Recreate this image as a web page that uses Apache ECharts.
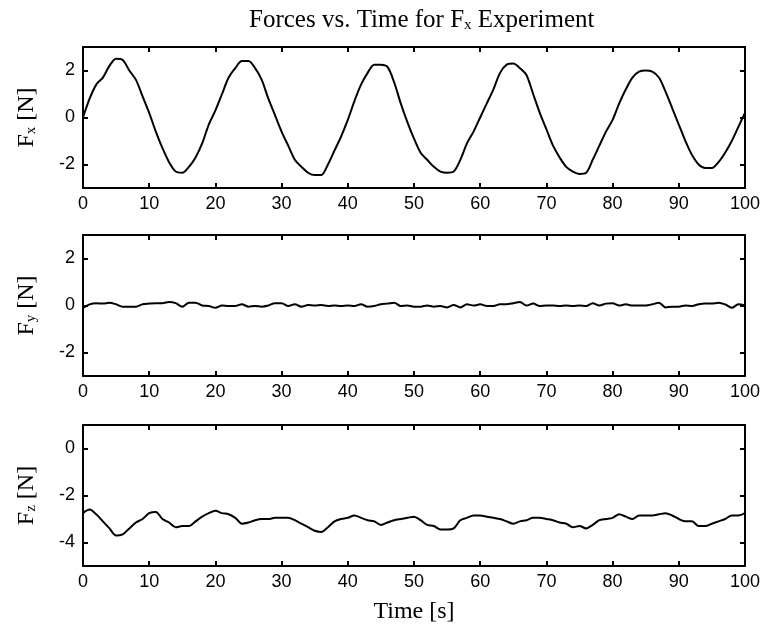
<!DOCTYPE html>
<html>
<head>
<meta charset="utf-8">
<script src="https://cdn.jsdelivr.net/npm/echarts@6/dist/echarts.min.js"></script>
<style>
  html, body { margin: 0; padding: 0; background: #fff; }
  #forces { width: 763px; height: 626px; }
</style>
</head>
<body>
<div id="forces"></div>
<script>
  // time in seconds, one sample per second
  const time = []
  for (let i = 0; i <= 100; i++) time.push(i)

  const fx = [
    0.0, 0.8, 1.4, 1.7, 2.2, 2.5, 2.45, 2.0, 1.6, 0.9,
    0.2, -0.6, -1.3, -1.9, -2.3, -2.35, -2.1, -1.7, -1.1, -0.3,
    0.3, 1.0, 1.7, 2.1, 2.4, 2.4, 2.1, 1.6, 0.8, 0.1,
    -0.6, -1.2, -1.8, -2.1, -2.35, -2.45, -2.45, -2.0, -1.4, -0.8,
    -0.1, 0.7, 1.4, 1.9, 2.25, 2.25, 2.15, 1.5, 0.6, -0.2,
    -0.9, -1.5, -1.8, -2.1, -2.3, -2.35, -2.3, -1.8, -1.1, -0.6,
    0.0, 0.6, 1.2, 1.9, 2.25, 2.3, 2.1, 1.8, 1.0, 0.2,
    -0.5, -1.2, -1.7, -2.1, -2.3, -2.4, -2.35, -1.8, -1.2, -0.6,
    -0.1, 0.6, 1.2, 1.7, 1.95, 2.0, 1.95, 1.7, 1.1, 0.4,
    -0.3, -1.0, -1.6, -2.0, -2.15, -2.15, -1.9, -1.5, -1.0, -0.4,
    0.2
  ]

  const fy = [
    -0.1, 0.05, 0.1, 0.08, 0.12, 0.05, -0.05, -0.05, -0.05, 0.05,
    0.08, 0.1, 0.1, 0.15, 0.1, -0.05, 0.12, 0.12, 0.0, -0.02,
    -0.1, 0.0, -0.02, -0.02, 0.05, -0.05, -0.02, -0.05, 0.0, 0.1,
    0.1, -0.02, 0.05, -0.05, 0.02, 0.0, 0.02, -0.02, 0.0, -0.02,
    0.0, -0.02, 0.05, -0.05, -0.02, 0.05, 0.08, 0.12, -0.02, 0.0,
    -0.05, -0.05, 0.0, -0.05, -0.02, -0.08, 0.02, -0.08, 0.05, 0.0,
    0.05, -0.02, -0.02, 0.05, 0.05, 0.1, 0.15, 0.0, 0.08, -0.02,
    0.0, 0.0, -0.02, 0.0, -0.02, 0.0, -0.02, 0.1, 0.0, 0.08,
    0.1, 0.0, 0.05, 0.0, 0.0, 0.0, 0.05, 0.12, -0.08, -0.05,
    -0.05, 0.0, -0.02, 0.05, 0.08, 0.08, 0.12, 0.05, -0.1, 0.05,
    0.0
  ]

  const fz = [
    -2.75, -2.6, -2.8, -3.1, -3.4, -3.7, -3.65, -3.4, -3.15, -3.0,
    -2.75, -2.7, -3.0, -3.15, -3.35, -3.3, -3.3, -3.1, -2.9, -2.75,
    -2.65, -2.75, -2.8, -2.95, -3.2, -3.15, -3.05, -3.0, -3.0, -2.95,
    -2.95, -2.95, -3.05, -3.2, -3.35, -3.5, -3.55, -3.35, -3.1, -3.0,
    -2.95, -2.85, -2.95, -3.05, -3.1, -3.25, -3.15, -3.05, -3.0, -2.95,
    -2.9, -3.05, -3.25, -3.3, -3.45, -3.45, -3.4, -3.05, -2.95, -2.85,
    -2.85, -2.9, -2.95, -3.0, -3.1, -3.2, -3.1, -3.05, -2.95, -2.95,
    -3.0, -3.05, -3.15, -3.2, -3.35, -3.3, -3.4, -3.25, -3.05, -3.0,
    -2.95, -2.8, -2.9, -3.0, -2.85, -2.85, -2.85, -2.8, -2.75, -2.85,
    -3.0, -3.1, -3.1, -3.3, -3.3, -3.2, -3.1, -3.0, -2.85, -2.85,
    -2.75
  ]

  const panels = [
    { sub: 'x', data: fx, min: -3, max: 3 },
    { sub: 'y', data: fy, min: -3, max: 3 },
    { sub: 'z', data: fz, min: -5, max: 1 }
  ]
  const gridTops = [47, 235, 425]

  const serif = 'Liberation Serif, Times New Roman, serif'
  const sans = 'Liberation Sans Narrow, Arial Narrow, Liberation Sans, sans-serif'

  const chart = echarts.init(document.getElementById('forces'))

  const grid = [], xAxis = [], yAxis = [], series = []
  panels.forEach((p, i) => {
    grid.push({ left: 83, right: 14, top: gridTops[i], height: 141 })
    const line = { show: true, onZero: false, lineStyle: { color: '#000', width: 2 } }
    const tick = { inside: true, length: 5, lineStyle: { color: '#000', width: 2 } }
    xAxis.push({
      type: 'value', gridIndex: i, min: 0, max: 100, interval: 10,
      axisLine: line, axisTick: tick, splitLine: { show: false },
      axisLabel: { color: '#000', fontFamily: sans, fontSize: 18, margin: 7 },
      name: i === 2 ? 'Time [s]' : '',
      nameLocation: 'middle', nameGap: 34,
      nameTextStyle: { color: '#000', fontFamily: serif, fontSize: 24 }
    })
    xAxis.push({
      type: 'value', gridIndex: i, position: 'top', min: 0, max: 100, interval: 10,
      axisLine: line, axisTick: tick, axisLabel: { show: false }, splitLine: { show: false }
    })
    // fixed min/max with splitNumber 3 gives ticks on -2, 0, 2 (or -4, -2, 0)
    yAxis.push({
      type: 'value', gridIndex: i, min: p.min, max: p.max, splitNumber: 3,
      axisLine: line, axisTick: tick, splitLine: { show: false },
      axisLabel: {
        color: '#000', fontFamily: sans, fontSize: 18, margin: 8,
        formatter: v => (v === p.min || v === p.max) ? '' : String(v)
      },
      name: '{f|F}{s|' + p.sub + '}{f| [N]}',
      nameLocation: 'middle', nameRotate: 90, nameGap: 44,
      nameTextStyle: {
        rich: {
          f: { fontFamily: serif, fontSize: 24, color: '#000' },
          s: { fontFamily: serif, fontSize: 15, color: '#000', padding: [9, 0, 0, 0] }
        }
      }
    })
    yAxis.push({
      type: 'value', gridIndex: i, position: 'right', min: p.min, max: p.max, splitNumber: 3,
      axisLine: line, axisTick: tick, axisLabel: { show: false }, splitLine: { show: false }
    })
    series.push({
      type: 'line', xAxisIndex: i * 2, yAxisIndex: i * 2,
      data: time.map((t, k) => [t, p.data[k]]),
      showSymbol: false, smooth: 0.3,
      lineStyle: { color: '#000', width: 2 }
    })
  })

  chart.setOption({
    animation: false,
    title: {
      text: 'Forces vs. Time for F{s|x} Experiment',
      left: 244, top: 3,
      textStyle: {
        fontFamily: serif, fontSize: 25, fontWeight: 'normal', color: '#000',
        rich: {
          s: { fontFamily: serif, fontSize: 15, color: '#000', padding: [9, 0, 0, 0] }
        }
      }
    },
    grid: grid,
    xAxis: xAxis,
    yAxis: yAxis,
    series: series
  })
</script>
</body>
</html>
